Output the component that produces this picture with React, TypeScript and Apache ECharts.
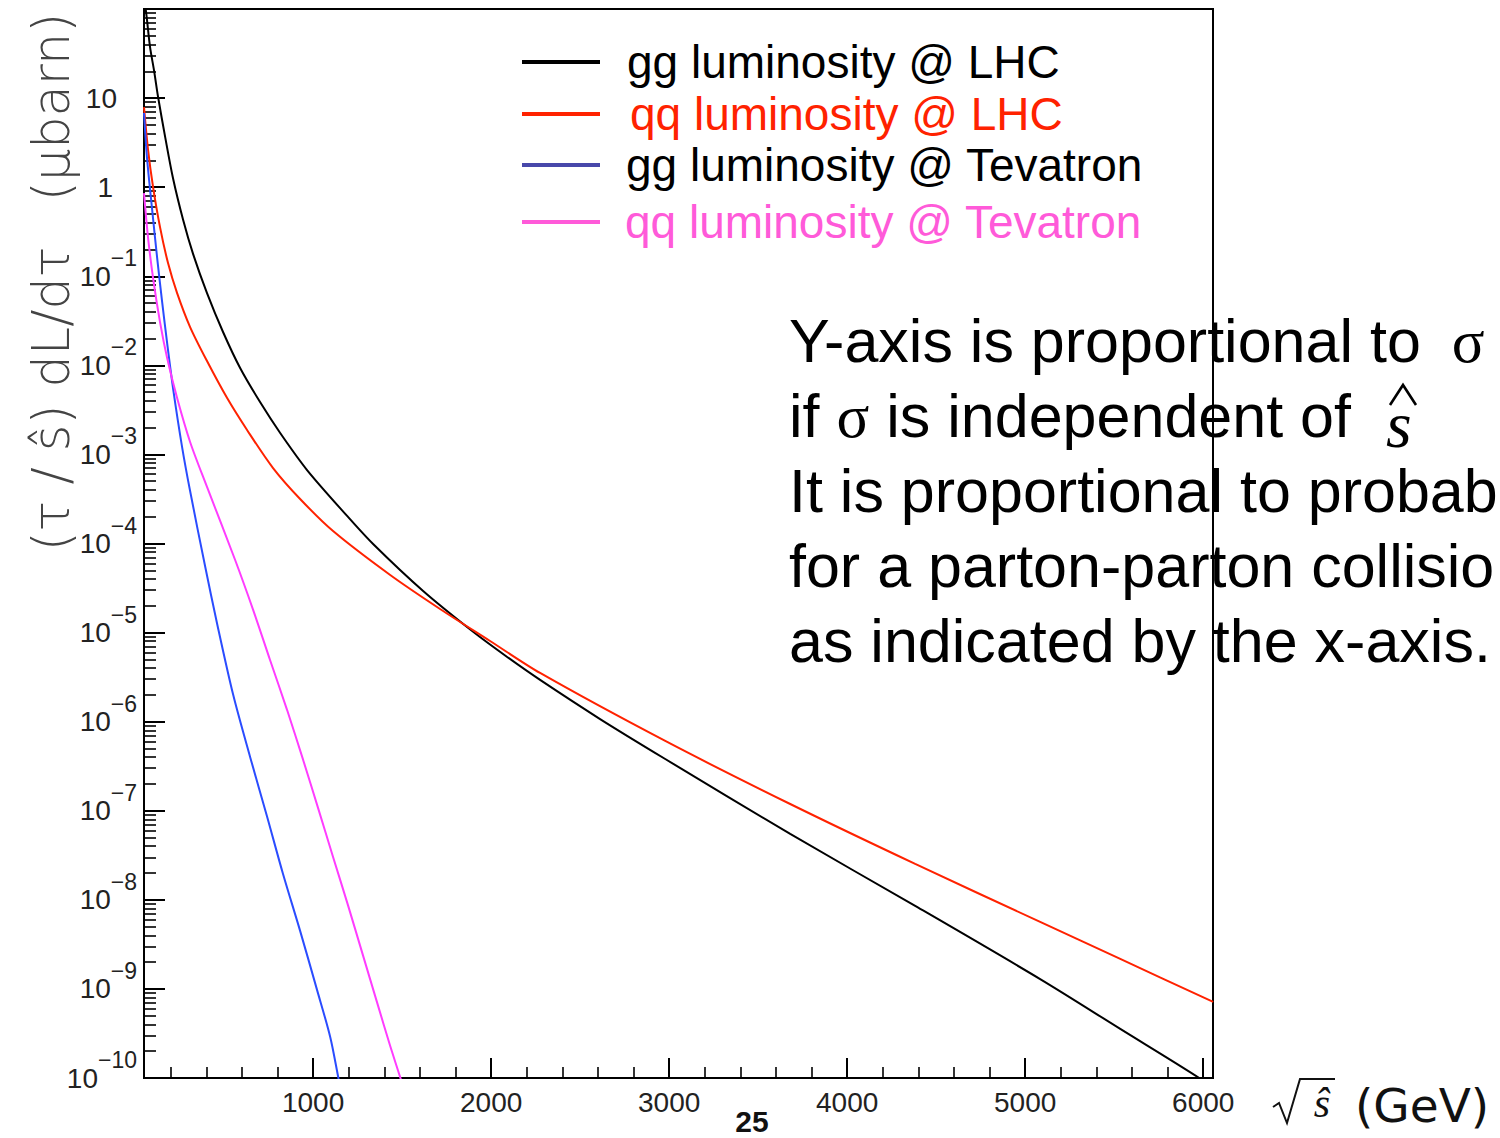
import { useEffect, useRef } from "react";
import * as echarts from "echarts";

// ---------- axis ranges & ticks ----------
const X_MIN = 50;
const X_MAX = 6055;
const Y_MIN = 1e-10;
const Y_MAX = 100;

const xMajorTicks = [1000, 2000, 3000, 4000, 5000, 6000];
const xMinorTicks = [
  200, 400, 600, 800, 1200, 1400, 1600, 1800, 2200, 2400, 2600, 2800, 3200, 3400, 3600, 3800,
  4200, 4400, 4600, 4800, 5200, 5400, 5600, 5800,
];
const yDecadeTicks = [1e-10, 1e-9, 1e-8, 1e-7, 1e-6, 1e-5, 1e-4, 1e-3, 1e-2, 1e-1, 1, 10, 100];
const yLabelTicks = [1e-10, 1e-9, 1e-8, 1e-7, 1e-6, 1e-5, 1e-4, 1e-3, 1e-2, 1e-1, 1, 10];
const yMinorTicks: number[] = [];
for (let n = -10; n <= 1; n++) {
  for (let k = 2; k <= 9; k++) yMinorTicks.push(parseFloat((k * Math.pow(10, n)).toPrecision(6)));
}

// ---------- series (sqrt(s_hat) in GeV, luminosity) ----------
const ggLHC_x = [50, 56, 67, 84, 107, 129, 169, 213, 270, 326, 404, 494, 590, 702, 815, 966, 1191, 1337, 1618, 1899, 2090, 2275, 2612, 2978, 3680, 4382, 5084, 5534, 5978, 6010];
const ggLHC_y = [400, 120, 75, 37.3, 20.1, 10.3, 3.65, 1.26, 0.428, 0.1774, 0.0647, 0.02366, 9.33e-3, 3.87e-3, 1.74e-3, 6.68e-4, 2.04e-4, 9.87e-5, 2.93e-5, 1.02e-5, 5.32e-6, 2.94e-6, 1.07e-6, 3.81e-7, 5.49e-8, 8.55e-9, 1.29e-9, 3.56e-10, 1.0e-10, 8.6e-11];

const qqLHC_x = [50, 73, 101, 140, 185, 236, 309, 404, 517, 629, 775, 927, 1112, 1433, 1713, 1994, 2275, 2978, 3680, 4382, 5084, 5534, 6056];
const qqLHC_y = [7.93, 2.61, 1.0, 0.356, 0.1406, 0.0647, 0.0269, 0.01117, 4.29e-3, 1.88e-3, 7.03e-4, 3.16e-4, 1.38e-4, 4.43e-5, 1.84e-5, 8.05e-6, 3.52e-6, 6.07e-7, 1.19e-7, 2.53e-8, 5.65e-9, 2.17e-9, 7.15e-10];

const ggTev_x = [50, 67, 96, 124, 152, 180, 213, 264, 309, 393, 461, 551, 646, 742, 831, 927, 1022, 1096, 1142, 1163];
const ggTev_y = [6.79, 2.12, 0.553, 0.16, 0.0513, 0.01778, 5.56e-3, 1.21e-3, 3.88e-4, 5.58e-5, 1.25e-5, 2.0e-6, 4.02e-7, 8.51e-8, 1.95e-8, 4.48e-9, 9.75e-10, 2.89e-10, 1.0e-10, 6.2e-11];

const qqTev_x = [50, 73, 101, 140, 180, 236, 309, 404, 562, 663, 758, 854, 944, 1028, 1112, 1197, 1281, 1360, 1433, 1494, 1517];
const qqTev_y = [0.859, 0.2685, 0.0955, 0.0306, 0.01208, 4.29e-3, 1.38e-3, 4.31e-4, 6.53e-5, 1.8e-5, 4.92e-6, 1.35e-6, 3.72e-7, 1.07e-7, 3.03e-8, 8.55e-9, 2.35e-9, 6.97e-10, 2.29e-10, 9.5e-11, 6.8e-11];

const seriesNames = ["gg luminosity @ LHC", "qq luminosity @ LHC", "gg luminosity @ Tevatron", "qq luminosity @ Tevatron"];
const curveColors = ["#000000", "#ff2200", "#2a4cff", "#ff3cff"];
const legendLineColors = ["#000000", "#ff2200", "#4848aa", "#ff5ad9"];
const legendTextColors = ["#000000", "#ff2200", "#000000", "#ff5ad9"];
const legendTops = [39, 91, 142, 199];
const legendTextPad = [22, 25, 21, 20];

const yTitleParts = ["(\u03bcbarn)", "dL/d\u03c4", "(\u03c4 / \u015d)"];
const yTitleCenters = [107, 317, 478];

const noteLines = [
  "It is proportional to probab",
  "for a parton-parton collisio",
  "as indicated by the x-axis.",
];

const SANS = "Liberation Sans, Arial, Helvetica, sans-serif";
const SERIF = "Liberation Serif, Times New Roman, serif";

function pairs(xs: number[], ys: number[]) {
  return xs.map((x, i) => [x, ys[i]]);
}

function yLabel(v: number) {
  const n = Math.round(Math.log10(v));
  if (n === 1) return "{p|10}";
  if (n === 0) return "{q|1}";
  return "{b|10}{e|\u2212" + -n + "}";
}

export default function App() {
  const ref = useRef<HTMLDivElement>(null);
  useEffect(() => {
    if (!ref.current) return;
    const chart = echarts.init(ref.current, null, { renderer: "svg" });
    const datasets = [
      pairs(ggLHC_x, ggLHC_y),
      pairs(qqLHC_x, qqLHC_y),
      pairs(ggTev_x, ggTev_y),
      pairs(qqTev_x, qqTev_y),
    ];
    const tickColor = "#000";
    const option: any = {
      animation: false,
      backgroundColor: "#ffffff",
      grid: {
        left: 144,
        right: 287,
        top: 9,
        bottom: 60,
        show: true,
        borderColor: "#000",
        borderWidth: 2,
        backgroundColor: "transparent",
        containLabel: false,
      },
      legend: seriesNames.map((name, i) => ({
        left: 522,
        top: legendTops[i],
        padding: 0,
        orient: "horizontal",
        icon: "rect",
        itemWidth: 78,
        itemHeight: 4,
        selectedMode: false,
        data: [
          {
            name,
            itemStyle: { color: legendLineColors[i], borderWidth: 0 },
            textStyle: { color: legendTextColors[i] },
          },
        ],
        textStyle: {
          fontSize: 46,
          fontFamily: SANS,
          color: legendTextColors[i],
          padding: [0, 0, 0, legendTextPad[i]],
        },
      })),
      xAxis: [
        {
          type: "value",
          min: X_MIN,
          max: X_MAX,
          position: "bottom",
          axisLine: { onZero: false, lineStyle: { color: tickColor, width: 2 } },
          axisTick: { inside: true, length: 20, customValues: xMajorTicks, lineStyle: { color: tickColor, width: 2 } },
          axisLabel: {
            customValues: xMajorTicks,
            margin: 10,
            fontSize: 28,
            fontFamily: SANS,
            color: "#222",
            formatter: (v: number) => String(Math.round(v)),
          },
          splitLine: { show: false },
        },
        {
          type: "value",
          min: X_MIN,
          max: X_MAX,
          position: "bottom",
          axisLine: { show: false, onZero: false },
          axisTick: { inside: true, length: 11, customValues: xMinorTicks, lineStyle: { color: tickColor, width: 1.6 } },
          axisLabel: { show: false },
          splitLine: { show: false },
        },
      ],
      yAxis: [
        {
          type: "log",
          logBase: 10,
          min: Y_MIN,
          max: Y_MAX,
          position: "left",
          axisLine: { onZero: false, lineStyle: { color: tickColor, width: 2 } },
          axisTick: { inside: true, length: 21, customValues: yDecadeTicks, lineStyle: { color: tickColor, width: 2 } },
          axisLabel: {
            customValues: yLabelTicks,
            margin: 7,
            formatter: yLabel,
            rich: {
              b: { fontSize: 28, fontFamily: SANS, color: "#222" },
              e: { fontSize: 23, fontFamily: SANS, color: "#222", padding: [0, 0, 36, 0] },
              p: { fontSize: 28, fontFamily: SANS, color: "#222", padding: [0, 20, 0, 0] },
              q: { fontSize: 28, fontFamily: SANS, color: "#222", padding: [0, 24, 0, 0] },
            },
          },
          splitLine: { show: false },
        },
        {
          type: "log",
          logBase: 10,
          min: Y_MIN,
          max: Y_MAX,
          position: "left",
          axisLine: { show: false, onZero: false },
          axisTick: { inside: true, length: 12, customValues: yMinorTicks, lineStyle: { color: tickColor, width: 1.6 } },
          axisLabel: { show: false },
          splitLine: { show: false },
        },
      ],
      series: seriesNames.map((name, i) => ({
        name,
        type: "line",
        xAxisIndex: 0,
        yAxisIndex: 0,
        data: datasets[i],
        showSymbol: false,
        symbol: "none",
        smooth: 0.3,
        clip: true,
        lineStyle: { color: curveColors[i], width: 2 },
        itemStyle: { color: curveColors[i] },
        z: 3,
      })),
      graphic: [
        ...yTitleParts.map((t, i) => ({
          type: "text",
          x: 51,
          y: yTitleCenters[i],
          rotation: Math.PI / 2,
          style: {
            text: t,
            fontFamily: "DejaVu Sans",
            fontWeight: 200,
            fontSize: 51,
            fill: "#444",
            align: "center",
            verticalAlign: "middle",
          },
        })),
        {
          type: "polyline",
          shape: { points: [[1273, 1107], [1279, 1103], [1287, 1123], [1300, 1079], [1335, 1079]] },
          style: { stroke: "#111", lineWidth: 2, fill: null },
        },
        {
          type: "text",
          x: 1322,
          y: 1103,
          style: { text: "\u015d", fontFamily: SERIF, fontStyle: "italic", fontSize: 42, fill: "#111", align: "center", verticalAlign: "middle" },
        },
        {
          type: "text",
          x: 1355,
          y: 1105,
          style: { text: "(GeV)", fontFamily: "DejaVu Sans", fontSize: 47, fill: "#111", align: "left", verticalAlign: "middle" },
        },
        {
          type: "text",
          x: 752,
          y: 1121,
          style: { text: "25", fontFamily: "Liberation Sans Narrow, Liberation Sans", fontWeight: "bold", fontSize: 30, fill: "#111", align: "center", verticalAlign: "middle" },
        },
        {
          type: "text",
          x: 789,
          y: 341,
          z: 10,
          style: {
            text: "{a|Y-axis is proportional to }{g|\u03c3}",
            align: "left",
            verticalAlign: "middle",
            rich: {
              a: { fontSize: 61, fontFamily: SANS, fill: "#000" },
              g: { fontSize: 61, fontFamily: SERIF, fill: "#000", padding: [0, 0, 0, 14] },
            },
          },
        },
        {
          type: "text",
          x: 789,
          y: 416,
          z: 10,
          style: {
            text: "{a|if }{g|\u03c3}{a| is independent of}",
            align: "left",
            verticalAlign: "middle",
            rich: {
              a: { fontSize: 61, fontFamily: SANS, fill: "#000" },
              g: { fontSize: 61, fontFamily: SERIF, fill: "#000" },
            },
          },
        },
        {
          type: "text",
          x: 1386,
          y: 424,
          z: 10,
          style: { text: "s", fontFamily: SERIF, fontStyle: "italic", fontSize: 66, fill: "#000", align: "left", verticalAlign: "middle" },
        },
        {
          type: "polyline",
          z: 10,
          shape: { points: [[1390, 405], [1403, 385], [1416, 405]] },
          style: { stroke: "#000", lineWidth: 2.6, fill: null, lineJoin: "miter" },
        },
        ...noteLines.map((t, i) => ({
          type: "text",
          x: 789,
          y: 491 + i * 75,
          z: 10,
          style: { text: t, fontSize: 61, fontFamily: SANS, fill: "#000", align: "left", verticalAlign: "middle" },
        })),
      ],
    };
    chart.setOption(option);
    return () => chart.dispose();
  }, []);
  return (
    <div
      ref={ref}
      style={{ position: "fixed", left: 0, top: 0, width: 1500, height: 1138, background: "#fff" }}
    />
  );
}
